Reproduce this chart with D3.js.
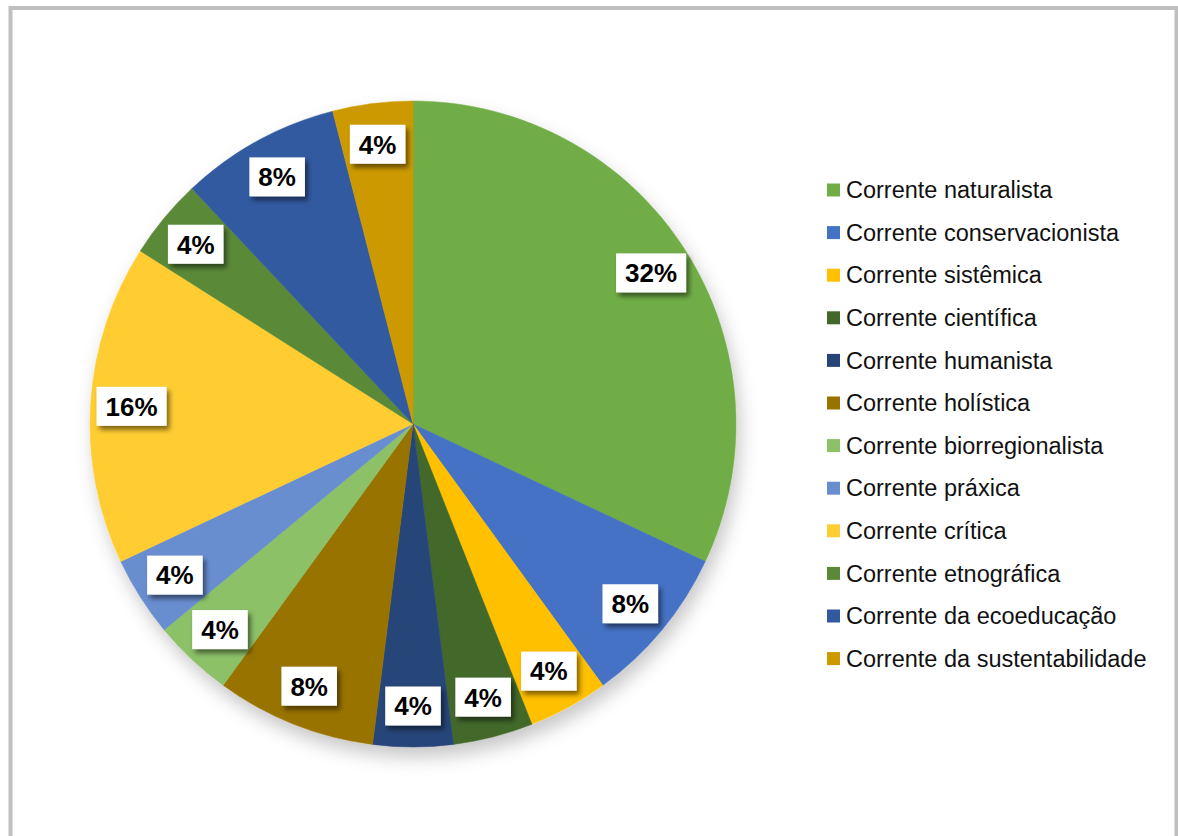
<!DOCTYPE html>
<html>
<head>
<meta charset="utf-8">
<script src="https://cdn.jsdelivr.net/npm/d3@7"></script>
<style>
  body { margin: 0; background: #fff; }
  svg { display: block; font-family: "Liberation Sans", Arial, Helvetica, sans-serif; }
</style>
</head>
<body>
<div id="chart"></div>
<script>
// données
const categorias = [
  "Corrente naturalista", "Corrente conservacionista", "Corrente sistêmica",
  "Corrente científica", "Corrente humanista", "Corrente holística",
  "Corrente biorregionalista", "Corrente práxica", "Corrente crítica",
  "Corrente etnográfica", "Corrente da ecoeducação", "Corrente da sustentabilidade"
];
const valores = [32, 8, 4, 4, 4, 8, 4, 4, 16, 4, 8, 4];
const cores = [
  "#70AD47", "#4472C4", "#FFC000", "#43682B", "#264478", "#997300",
  "#8CC168", "#698ED0", "#FFCD33", "#5A8A39", "#335AA1", "#CC9A00"
];

const width = 1178, height = 836;
const cx = 413, cy = 424, rayon = 323, rayonLabel = 282;

const svg = d3.select("#chart").append("svg")
    .attr("width", width)
    .attr("height", height);

const defs = svg.append("defs");
defs.append("filter").attr("id", "ombrePie")
    .attr("x", "-20%").attr("y", "-20%").attr("width", "140%").attr("height", "150%")
  .append("feDropShadow")
    .attr("dx", 4).attr("dy", 10).attr("stdDeviation", 9)
    .attr("flood-color", "#000").attr("flood-opacity", 0.22);
defs.append("filter").attr("id", "ombreLabel")
    .attr("x", "-30%").attr("y", "-30%").attr("width", "160%").attr("height", "180%")
  .append("feDropShadow")
    .attr("dx", 3).attr("dy", 4).attr("stdDeviation", 2.5)
    .attr("flood-color", "#000").attr("flood-opacity", 0.5);

// cadre
svg.append("rect")
    .attr("x", 10.5).attr("y", 8)
    .attr("width", 1166).attr("height", 900)
    .attr("fill", "none")
    .attr("stroke", "#bfbfbf")
    .attr("stroke-width", 4);

const tabData = categorias.map((c, i) => ({ nom: c, valeur: valores[i], couleur: cores[i] }));

const pie = d3.pie().sort(null).value(d => d.valeur);
const arcs = pie(tabData);
const arc = d3.arc().innerRadius(0).outerRadius(rayon);

const g = svg.append("g").attr("transform", `translate(${cx},${cy})`);

g.append("g").attr("filter", "url(#ombrePie)")
  .selectAll("path")
  .data(arcs)
  .enter()
  .append("path")
    .attr("d", arc)
    .attr("fill", d => d.data.couleur)
    .attr("stroke", d => d.data.couleur)
    .attr("stroke-width", 0.5);

// étiquettes
const arcLabel = d3.arc().innerRadius(rayonLabel).outerRadius(rayonLabel);
const labels = g.selectAll("g.label")
  .data(arcs)
  .enter()
  .append("g")
    .attr("class", "label")
    .attr("transform", d => `translate(${arcLabel.centroid(d)})`);

labels.each(function(d) {
  const sel = d3.select(this);
  const txt = d.data.valeur + "%";
  const t = sel.append("text")
      .attr("text-anchor", "middle")
      .attr("dy", "0.36em")
      .attr("font-size", 26)
      .attr("font-weight", "bold")
      .attr("fill", "#000")
      .text(txt);
  const w = t.node().getComputedTextLength() + 18;
  sel.insert("rect", "text")
      .attr("x", -w / 2).attr("y", -19.5)
      .attr("width", w).attr("height", 39)
      .attr("fill", "#fff")
      .attr("filter", "url(#ombreLabel)");
});

// légende
const legende = svg.append("g").attr("transform", "translate(827,190)");
const items = legende.selectAll("g")
  .data(tabData)
  .enter()
  .append("g")
    .attr("transform", (d, i) => `translate(0,${i * 42.6})`);

items.append("rect")
    .attr("x", 0).attr("y", -6.5)
    .attr("width", 13).attr("height", 13)
    .attr("fill", d => d.couleur);

items.append("text")
    .attr("x", 19)
    .attr("dy", "0.35em")
    .attr("font-size", 23.5)
    .attr("fill", "#111")
    .text(d => d.nom);
</script>
</body>
</html>
